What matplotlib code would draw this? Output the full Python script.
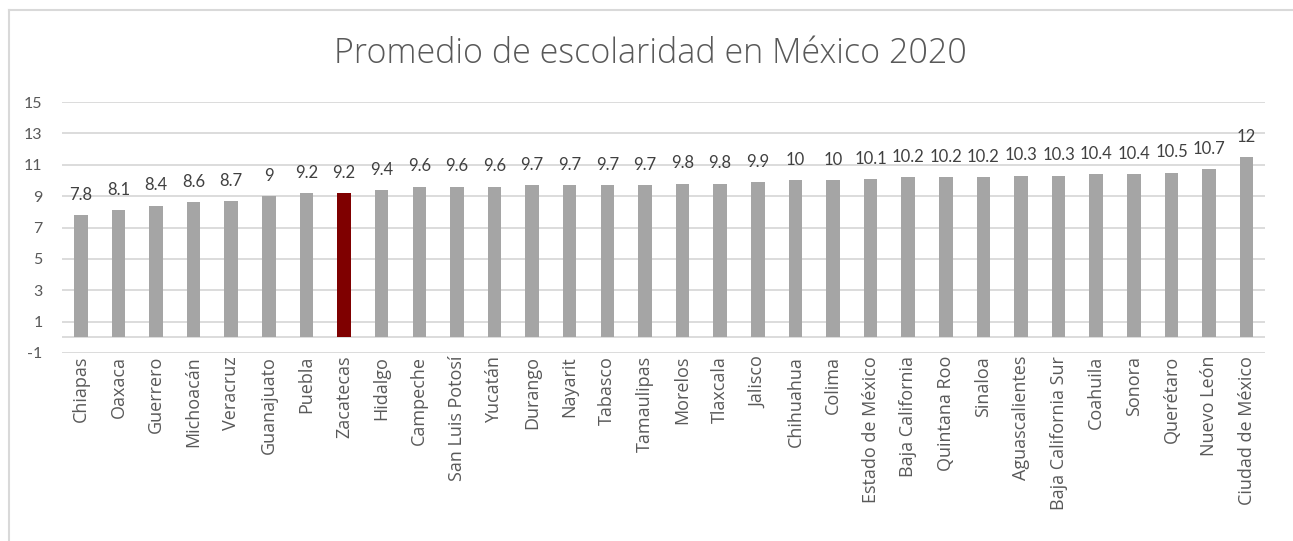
import matplotlib
matplotlib.use("Agg")
import matplotlib.pyplot as plt
from matplotlib.lines import Line2D

# Data
estados = [
    "Chiapas", "Oaxaca", "Guerrero", "Michoacán", "Veracruz", "Guanajuato",
    "Puebla", "Zacatecas", "Hidalgo", "Campeche", "San Luis Potosí", "Yucatán",
    "Durango", "Nayarit", "Tabasco", "Tamaulipas", "Morelos", "Tlaxcala",
    "Jalisco", "Chihuahua", "Colima", "Estado de México", "Baja California",
    "Quintana Roo", "Sinaloa", "Aguascalientes", "Baja California Sur",
    "Coahuila", "Sonora", "Querétaro", "Nuevo León", "Ciudad de México",
]
escolaridad = [
    7.8, 8.1, 8.4, 8.6, 8.7, 9.0, 9.2, 9.2, 9.4, 9.6, 9.6, 9.6,
    9.7, 9.7, 9.7, 9.7, 9.8, 9.8, 9.9, 10.0, 10.0, 10.1, 10.2,
    10.2, 10.2, 10.3, 10.3, 10.4, 10.4, 10.5, 10.7, 11.5,
]
etiquetas = [
    "7.8", "8.1", "8.4", "8.6", "8.7", "9", "9.2", "9.2", "9.4", "9.6", "9.6", "9.6",
    "9.7", "9.7", "9.7", "9.7", "9.8", "9.8", "9.9", "10", "10", "10.1", "10.2",
    "10.2", "10.2", "10.3", "10.3", "10.4", "10.4", "10.5", "10.7", "12",
]
destacado = "Zacatecas"
y_ticks = [-1, 1, 3, 5, 7, 9, 11, 13, 15]

GRAY = "#A5A5A5"
RED = "#7F0000"
GRID = "#D9D9D9"
TEXT = "#595959"

fig = plt.figure(figsize=(12.93, 5.41), dpi=100, facecolor="white")
ax = fig.add_axes([62 / 1293, 1 - 353 / 541, (1265.5 - 62) / 1293, (353 - 102) / 541])

colors = [RED if e == destacado else GRAY for e in estados]
x = range(len(estados))
ax.bar(x, escolaridad, width=0.36, color=colors, zorder=3)

ax.set_xlim(-0.5, len(estados) - 0.5)
ax.set_ylim(-1, 15)
ax.set_yticks(y_ticks)
ax.set_yticklabels([str(t) for t in y_ticks], fontsize=11.5, color=TEXT, family="Lato")
ax.grid(axis="y", color=GRID, linewidth=1.3, zorder=0)
ax.axhline(0, color=GRID, linewidth=1.3, zorder=1)
ax.tick_params(axis="y", length=0, pad=14)

ax.set_xticks(list(x))
ax.set_xticklabels(estados, rotation=90, fontsize=13, color=TEXT, family="Open Sans")
ax.tick_params(axis="x", length=0, pad=2)

for spine in ax.spines.values():
    spine.set_visible(False)

# Data labels
for xi, val, lab in zip(x, escolaridad, etiquetas):
    ax.annotate(lab, (xi, val), xytext=(0, 11), textcoords="offset points",
                ha="center", va="baseline", fontsize=12, color="#404040", family="Lato")

# Title
fig.text(650 / 1293, 1 - 63 / 541, "Promedio de escolaridad en México 2020",
         ha="center", va="baseline", fontsize=24.5, color=TEXT, family="Open Sans",
         fontweight="light")

# Chart border (top and left edges visible)
fig.add_artist(Line2D([9 / 1293, 9 / 1293], [0, 1 - 10 / 541], transform=fig.transFigure,
                      color=GRID, linewidth=1.5))
fig.add_artist(Line2D([9 / 1293, 1], [1 - 10 / 541, 1 - 10 / 541], transform=fig.transFigure,
                      color=GRID, linewidth=1.5))

fig.savefig("out.png", dpi=100, facecolor="white")
